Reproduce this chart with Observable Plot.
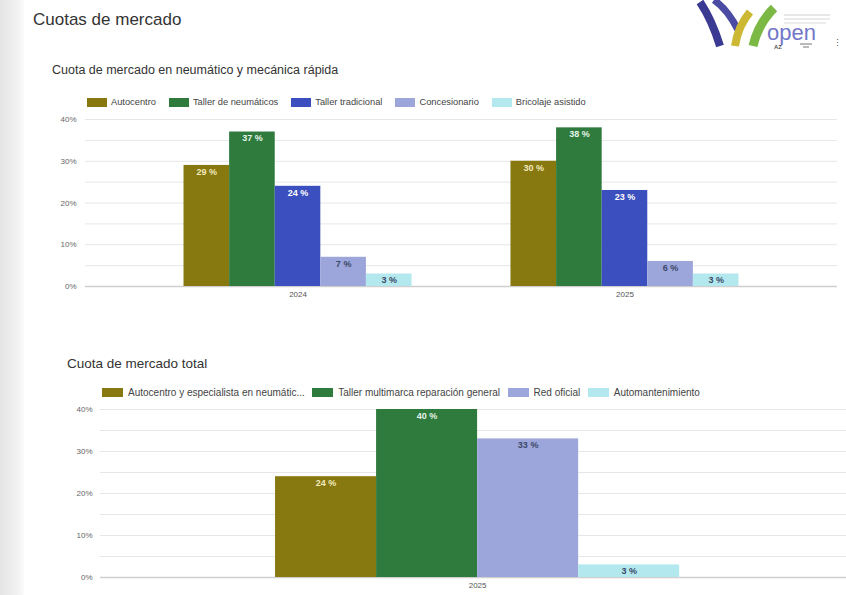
<!DOCTYPE html>
<html>
<head>
<meta charset="utf-8">
<script src="https://cdn.jsdelivr.net/npm/d3@7"></script>
<script src="https://cdn.jsdelivr.net/npm/@observablehq/plot@0.6"></script>
<style>
  html, body { margin: 0; padding: 0; }
  body { width: 846px; height: 595px; position: relative; overflow: hidden; background: #ffffff; font-family: "Liberation Sans", Arial, sans-serif; }
  .abs { position: absolute; }
  .txt { line-height: 1; white-space: nowrap; }
  .legend { display: flex; align-items: center; color: #444; white-space: nowrap; }
  .legend .item { display: flex; align-items: center; }
  .legend .sw { display: inline-block; }
  .layer { position: absolute; left: 0; top: 0; }
</style>
</head>
<body>
<div class="abs" style="left:0;top:0;width:24px;height:595px;background:linear-gradient(to right,#e4e4e4,#f1f1f1 70%,#fafafa);"></div>
<div class="abs txt" style="left:33px;top:11px;font-size:17px;color:#333;">Cuotas de mercado</div>
<svg class="abs" style="left:690px;top:0;" width="156" height="52">
  <path d="M10,2 Q22,20 30,46" fill="none" stroke="#3a3a92" stroke-width="8"/>
  <path d="M24,0 Q38,10 48,30" fill="none" stroke="#4b4ba3" stroke-width="7"/>
  <path d="M60,12 Q48,26 45,46" fill="none" stroke="#cdb833" stroke-width="8"/>
  <path d="M84,8 Q68,24 63,46" fill="none" stroke="#7cb944" stroke-width="9"/>
  <line x1="94" y1="15" x2="140" y2="15" stroke="#d0d0d0" stroke-width="1.2"/>
  <line x1="94" y1="19" x2="140" y2="19" stroke="#d8d8d8" stroke-width="1.2"/>
  <line x1="94" y1="23" x2="136" y2="23" stroke="#dcdcdc" stroke-width="1"/>
  <text x="77" y="40" font-size="22" fill="#7377c9" font-family="Liberation Sans, Arial">open</text>
  <text x="84" y="49" font-size="6" fill="#555" font-family="Liberation Sans, Arial" font-weight="bold">AZ</text>
  <line x1="110" y1="44" x2="122" y2="44" stroke="#777" stroke-width="1"/>
  <line x1="113" y1="47" x2="119" y2="47" stroke="#777" stroke-width="1"/>
  <text x="143" y="46" font-size="9" fill="#555" font-family="Liberation Sans, Arial">⋮</text>
</svg>

<div class="abs txt" style="left:52px;top:64px;font-size:12.5px;color:#333;">Cuota de mercado en neumático y mecánica rápida</div>
<div id="leg1" class="abs legend" style="left:87px;top:97px;height:10px;font-size:9.3px;"></div>
<div id="chart1" class="abs" style="left:0;top:110px;width:846px;height:195px;"></div>

<div class="abs txt" style="left:67px;top:357px;font-size:13.5px;color:#333;">Cuota de mercado total</div>
<div id="leg2" class="abs legend" style="left:102px;top:387px;height:10px;font-size:10px;"></div>
<div id="chart2" class="abs" style="left:0;top:400px;width:846px;height:196px;"></div>

<script>
// ---------- data ----------
const years1 = ["2024", "2025"];
const categories1 = ["Autocentro", "Taller de neumáticos", "Taller tradicional", "Concesionario", "Bricolaje asistido"];
const values2024 = [29, 37, 24, 7, 3];
const values2025 = [30, 38, 23, 6, 3];

const years2 = ["2025"];
const categories2 = ["Autocentro y especialista en neumáticos", "Taller multimarca reparación general", "Red oficial", "Automantenimiento"];
const valuesTotal2025 = [24, 40, 33, 3];

const yTickValues = [0, 10, 20, 30, 40];
const yTickLabels = ["0%", "10%", "20%", "30%", "40%"];
const yGridValues = [5, 10, 15, 20, 25, 30, 35, 40];

// ---------- styles ----------
const colors1 = ["#877810", "#2f7a3d", "#3b4fbe", "#9da6db", "#b3e8ee"];
const labelColors1 = ["#f2eabd", "#e6f5ea", "#ffffff", "#3c4868", "#3c4868"];
const colors2 = ["#877810", "#2f7a3d", "#9da6db", "#b3e8ee"];
const labelColors2 = ["#f2eabd", "#e6f5ea", "#3c4868", "#3c4868"];

// ---------- tables ----------
const data1 = [];
categories1.forEach((c, i) => {
  data1.push({year: years1[0], cat: c, value: values2024[i]});
  data1.push({year: years1[1], cat: c, value: values2025[i]});
});
const data2 = categories2.map((c, i) => ({year: years2[0], cat: c, value: valuesTotal2025[i]}));

function legend(el, cats, colors, swW, swH, gapSw, gapItem, maxLen) {
  const node = document.getElementById(el);
  cats.forEach((c, i) => {
    const item = document.createElement("div");
    item.className = "item";
    item.style.marginRight = gapItem + "px";
    const sw = document.createElement("span");
    sw.className = "sw";
    sw.style.width = swW + "px";
    sw.style.height = swH + "px";
    sw.style.background = colors[i];
    sw.style.marginRight = gapSw + "px";
    const t = document.createElement("span");
    t.textContent = c.length > maxLen ? c.slice(0, maxLen) + "..." : c;
    item.appendChild(sw);
    item.appendChild(t);
    node.appendChild(item);
  });
}
legend("leg1", categories1, colors1, 20, 9, 4, 13, 60);
legend("leg2", categories2, colors2, 21, 9, 5, 7.5, 37);

const fontStyle = {fontFamily: "Liberation Sans, Arial, sans-serif", fontSize: "8px", color: "#555", background: "transparent", overflow: "visible"};

function chart(el, data, cats, colors, labelColors, years, opts) {
  const common = {
    width: 846, height: opts.height,
    marginLeft: opts.marginLeft, marginRight: opts.marginRight,
    marginTop: opts.marginTop, marginBottom: opts.marginBottom,
    style: fontStyle
  };
  // background layer: gridlines, y tick labels, baseline (full frame width)
  const back = Plot.plot({
    ...common,
    y: {domain: [0, 40], axis: null},
    marks: [
      Plot.ruleY(yGridValues, {stroke: "#e6e6e6", strokeWidth: 1}),
      Plot.ruleY([0], {stroke: "#cfcfcf", strokeWidth: 1.5}),
      Plot.text(yTickValues, {y: d => d, text: (d, i) => yTickLabels[i], frameAnchor: "left", textAnchor: "end", dx: -opts.tickPad, fill: "#666", fontSize: 8})
    ]
  });
  // foreground layer: grouped bars faceted by year
  const labelMarks = cats.map((c, i) =>
    Plot.text(data.filter(d => d.cat === c), {
      fx: "year", x: "cat", y: "value",
      text: d => d.value + " %",
      dy: opts.labelDy, fill: labelColors[i],
      fontWeight: "bold", fontSize: opts.labelSize
    })
  );
  const front = Plot.plot({
    ...common,
    fx: {domain: years, paddingInner: 0, paddingOuter: opts.fxPadOuter, align: opts.fxAlign, round: false, label: null, axis: "bottom", tickSize: 0, tickPadding: 5},
    x: {domain: cats, paddingInner: 0, paddingOuter: opts.xPadOuter, round: false, axis: null},
    y: {domain: [0, 40], axis: null},
    color: {domain: cats, range: colors},
    marks: [
      Plot.barY(data, {fx: "year", x: "cat", y: "value", fill: "cat"}),
      ...labelMarks
    ]
  });
  back.classList.add("layer");
  front.classList.add("layer");
  const node = document.getElementById(el);
  node.appendChild(back);
  node.appendChild(front);
}

chart("chart1", data1, categories1, colors1, labelColors1, years1, {
  height: 195, marginLeft: 85, marginRight: 9, marginTop: 9, marginBottom: 19,
  fxPadOuter: 0.15, fxAlign: 0.5, xPadOuter: 1.085, tickPad: 9, labelDy: 6.5, labelSize: 9
});

chart("chart2", data2, categories2, colors2, labelColors2, years2, {
  height: 196, marginLeft: 100, marginRight: 0, marginTop: 9, marginBottom: 19,
  fxPadOuter: 0.423, fxAlign: 0.512, xPadOuter: 0, tickPad: 8, labelDy: 6.5, labelSize: 9
});
</script>
</body>
</html>
